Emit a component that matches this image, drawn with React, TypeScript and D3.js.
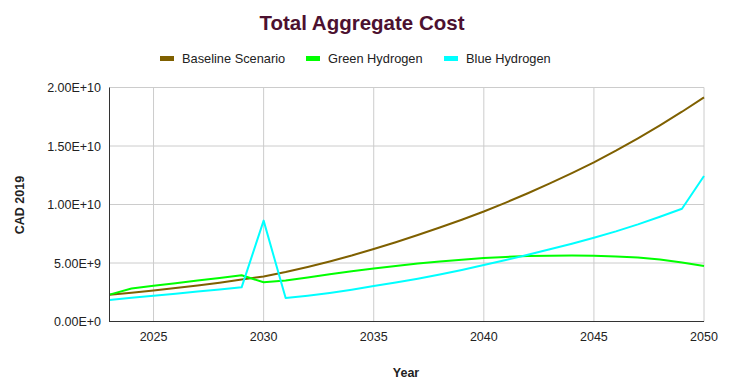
import React from "react";
import * as d3 from "d3";

const years: number[] = d3.range(2023, 2051);
const baseline: number[] = [
  2.28, 2.46, 2.65, 2.86, 3.08, 3.32, 3.58, 3.85, 4.23, 4.66, 5.13, 5.64, 6.2, 6.78,
  7.39, 8.03, 8.7, 9.4, 10.16, 10.96, 11.8, 12.68, 13.6, 14.6, 15.66, 16.77, 17.93, 19.15,
];
const green: number[] = [
  2.3, 2.82, 3.05, 3.27, 3.5, 3.72, 3.95, 3.35, 3.5, 3.77, 4.03, 4.29, 4.53, 4.75,
  4.95, 5.12, 5.28, 5.42, 5.52, 5.59, 5.63, 5.64, 5.62, 5.56, 5.47, 5.3, 5.05, 4.74,
];
const blue: number[] = [
  1.84, 2.02, 2.2, 2.38, 2.56, 2.74, 2.92, 8.62, 2.0, 2.2, 2.44, 2.72, 3.03, 3.33,
  3.66, 4.02, 4.41, 4.83, 5.25, 5.7, 6.17, 6.65, 7.16, 7.7, 8.3, 8.95, 9.64, 12.44,
];
const seriesNames = ["Baseline Scenario", "Green Hydrogen", "Blue Hydrogen"];
const seriesColors = ["#7f6000", "#00ff00", "#00ffff"];
const xTicks = [2025, 2030, 2035, 2040, 2045, 2050];
const yTicks = [0, 5e9, 1e10, 1.5e10, 2e10];
const yTickLabels = ["0.00E+0", "5.00E+9", "1.00E+10", "1.50E+10", "2.00E+10"];

const W = 742;
const H = 385;
const FONT = "'Liberation Sans', Arial, sans-serif";

export default function App() {
  const x = d3.scaleLinear().domain([2023, 2050]).range([109.5, 704]);
  const y = d3.scaleLinear().domain([0, 2e10]).range([321.5, 87.5]);
  const allSeries = [baseline, green, blue];
  const line = d3
    .line<[number, number]>()
    .x((d) => x(d[0]))
    .y((d) => y(d[1] * 1e9));

  const legendItems = [
    { mx: 160, tx: 182 },
    { mx: 306, tx: 328 },
    { mx: 444, tx: 466 },
  ];

  return (
    <svg
      width={W}
      height={H}
      style={{ position: "absolute", left: 0, top: 0, background: "#fff" }}
      fontFamily={FONT}
    >
      <rect x={0} y={0} width={W} height={H} fill="#fff" />
      <text x={362} y={30} textAnchor="middle" fontSize={20.5} fontWeight="bold" fill="#4c1130">
        Total Aggregate Cost
      </text>
      {seriesNames.map((n, i) => (
        <g key={n}>
          <rect x={legendItems[i].mx} y={56} width={14} height={5} fill={seriesColors[i]} />
          <text x={legendItems[i].tx} y={62.5} fontSize={12.8} fill="#222">
            {n}
          </text>
        </g>
      ))}
      {yTicks.map((t) => (
        <line key={"gy" + t} x1={109.5} x2={704} y1={y(t)} y2={y(t)} stroke="#cccccc" strokeWidth={1} />
      ))}
      {xTicks.map((t) => (
        <line key={"gx" + t} x1={x(t)} x2={x(t)} y1={87.5} y2={321.5} stroke="#cccccc" strokeWidth={1} />
      ))}
      {allSeries.map((s, i) => (
        <path
          key={"s" + i}
          d={line(years.map((yr, j) => [yr, s[j]] as [number, number])) || ""}
          fill="none"
          stroke={seriesColors[i]}
          strokeWidth={2}
          strokeLinejoin="round"
        />
      ))}
      <line x1={109.5} x2={109.5} y1={87.5} y2={322} stroke="#333" strokeWidth={1} />
      <line x1={109} x2={704} y1={321.5} y2={321.5} stroke="#333" strokeWidth={1} />
      {yTicks.map((t, i) => (
        <text key={"yl" + t} x={101} y={y(t) + 4.5} textAnchor="end" fontSize={12.5} fill="#222">
          {yTickLabels[i]}
        </text>
      ))}
      {xTicks.map((t) => (
        <text key={"xl" + t} x={x(t)} y={341} textAnchor="middle" fontSize={12.5} fill="#222">
          {t}
        </text>
      ))}
      <text x={406} y={377} textAnchor="middle" fontSize={12.5} fontWeight="bold" fill="#222">
        Year
      </text>
      <text
        transform={`translate(24,205) rotate(-90)`}
        textAnchor="middle"
        fontSize={12.5}
        fontWeight="bold"
        fill="#222"
      >
        CAD 2019
      </text>
    </svg>
  );
}
